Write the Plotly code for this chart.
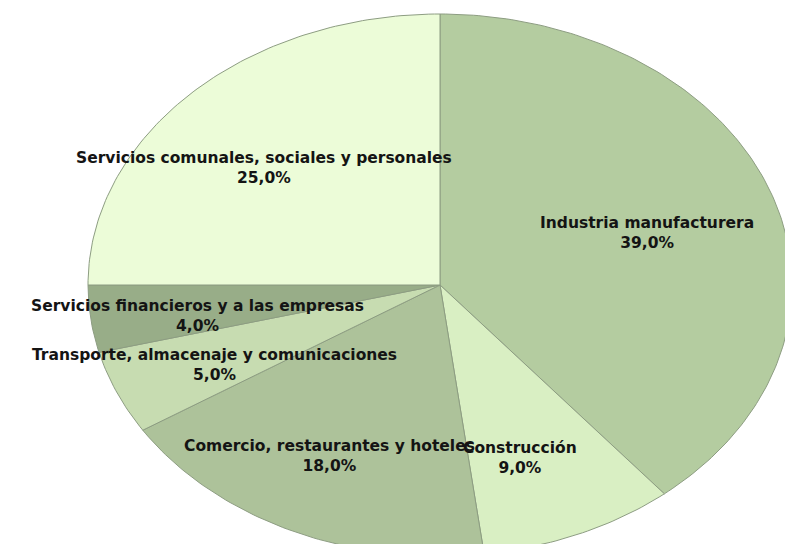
import numpy as np
import plotly.graph_objects as go

# Sector shares (%), listed clockwise from 12 o'clock
sectors = [
    "Industria manufacturera",
    "Construcción",
    "Comercio, restaurantes y hoteles",
    "Transporte, almacenaje y comunicaciones",
    "Servicios financieros y a las empresas",
    "Servicios comunales, sociales y personales",
]
shares = [39.0, 9.0, 18.0, 5.0, 4.0, 25.0]
colors = ["#b4cca0", "#d9efc3", "#adc29a", "#c7dcb1", "#98ad88", "#ecfcd8"]

W, H = 785, 544
RX, RY = 352, 271          # pixel radii of the (elliptical) pie
CX, CY = 440, 285          # pixel centre, measured from top-left
LABEL_R = 0.66             # radial position of the labels

fig = go.Figure()

total = sum(shares)
start = 0.0
label_font = dict(family="DejaVu Sans", size=15.5, color="#141414")
for name, val, col in zip(sectors, shares, colors):
    a0 = start / total * 2 * np.pi
    a1 = (start + val) / total * 2 * np.pi
    t = np.linspace(a0, a1, max(int(val * 4), 8))
    xs = np.concatenate([[0], np.sin(t), [0]])
    ys = np.concatenate([[0], np.cos(t), [0]])
    fig.add_trace(go.Scatter(
        x=xs, y=ys, mode="lines", fill="toself", fillcolor=col,
        line=dict(color="#8d9d82", width=1), hoverinfo="text",
        text=f"{name}: {val:.1f}%", showlegend=False,
    ))
    mid = (a0 + a1) / 2
    pct = f"{val:.1f}%".replace(".", ",")
    fig.add_annotation(
        x=LABEL_R * np.sin(mid), y=LABEL_R * np.cos(mid),
        text=f"<b>{name}<br>{pct}</b>",
        showarrow=False, xshift=-12, yshift=-9,
        font=label_font, align="center",
    )
    start += val

fig.update_layout(
    width=W, height=H,
    margin=dict(l=0, r=0, t=0, b=0),
    paper_bgcolor="white", plot_bgcolor="white",
    xaxis=dict(range=[-CX / RX, (W - CX) / RX], visible=False, fixedrange=True),
    yaxis=dict(range=[-(H - CY) / RY, CY / RY], visible=False, fixedrange=True),
)

fig.write_html("out.html")
